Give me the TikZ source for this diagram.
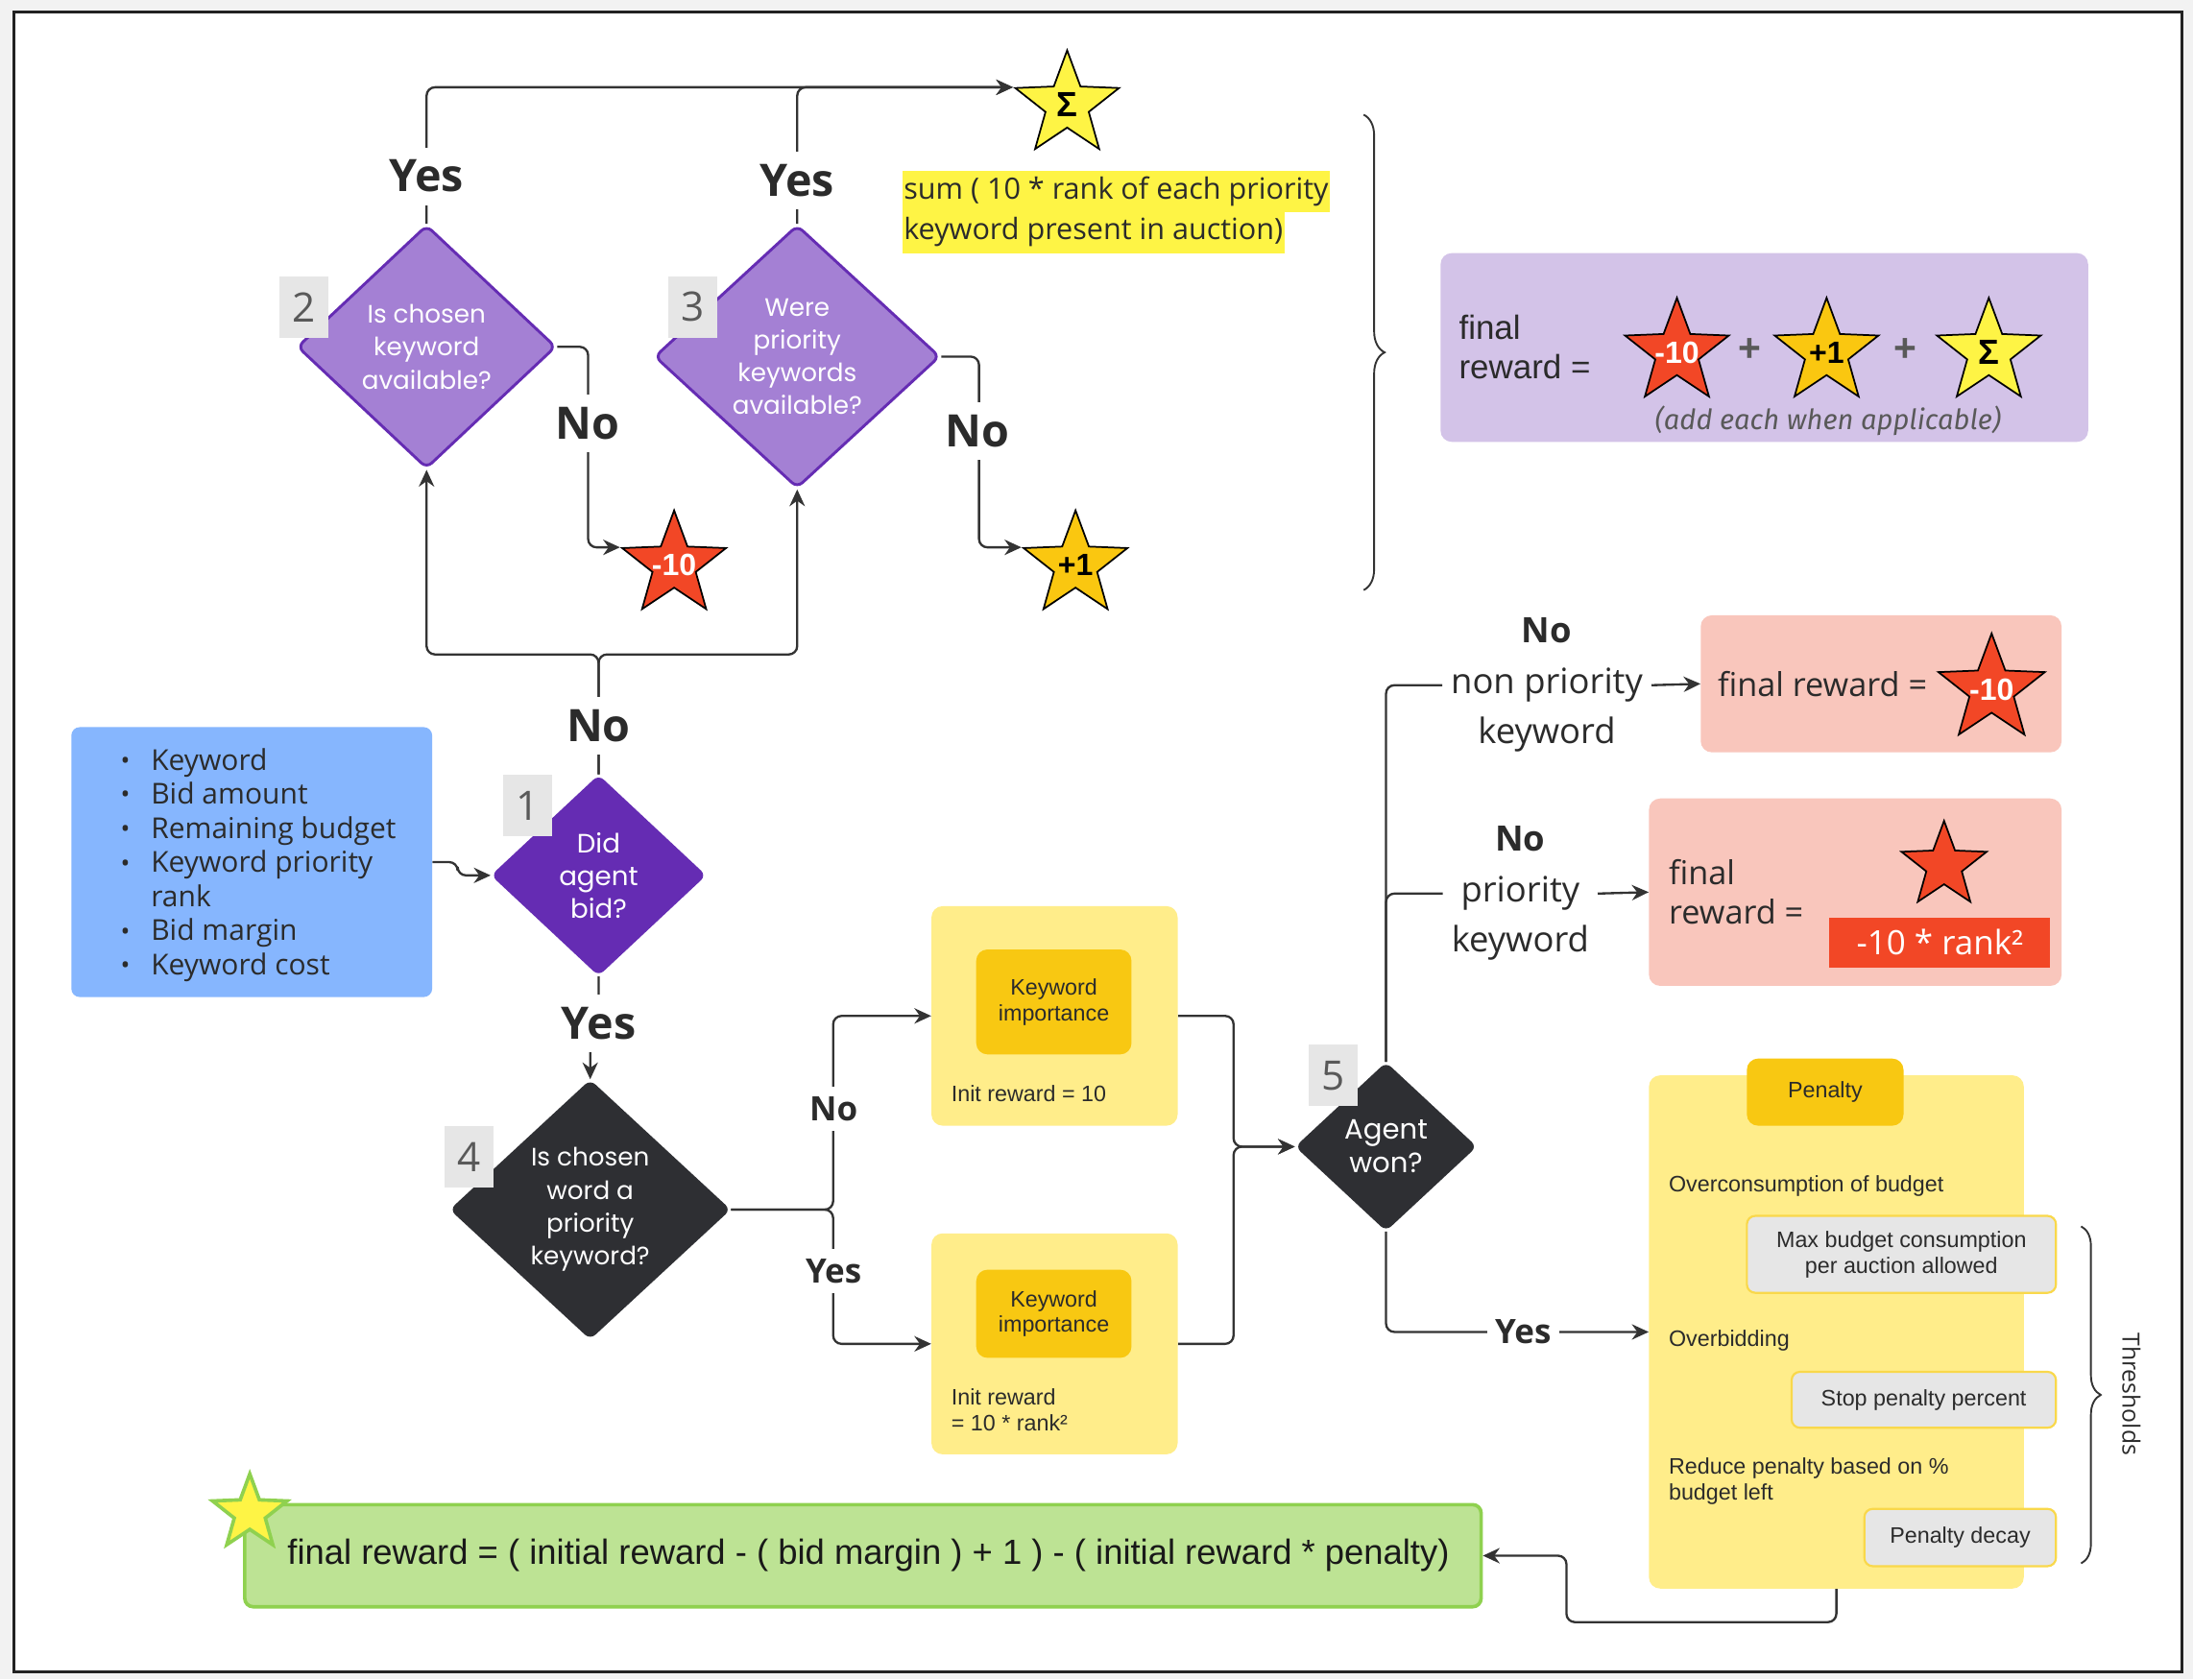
\documentclass[tikz,border=0pt]{standalone}
\usepackage{fontspec}
\setmainfont{Open Sans}
\newfontfamily\arialfont{Liberation Sans}
\newfontfamily\geofont{Poppins}
\newfontfamily\notefont{Fira Sans}
\usetikzlibrary{arrows.meta,positioning,calc,shapes.geometric,decorations.pathreplacing}
\definecolor{pagegray}{HTML}{F2F2F2}
\definecolor{framecol}{HTML}{222222}
\definecolor{wirecol}{HTML}{333333}
\definecolor{inkdark}{HTML}{2B2B2B}
\definecolor{bidviolet}{HTML}{652CB3}
\definecolor{lavender}{HTML}{A480D4}
\definecolor{charcoal}{HTML}{2E2F33}
\definecolor{tagfill}{HTML}{E6E6E6}
\definecolor{taggray}{HTML}{595959}
\definecolor{skyblue}{HTML}{86B6FE}
\definecolor{lilac}{HTML}{D3C3E8}
\definecolor{blush}{HTML}{F9C6BC}
\definecolor{butter}{HTML}{FFED8A}
\definecolor{amber}{HTML}{F8C812}
\definecolor{starred}{HTML}{F24726}
\definecolor{staramber}{HTML}{FAC710}
\definecolor{staryellow}{HTML}{FEF445}
\definecolor{leaf}{HTML}{BDE394}
\definecolor{leafedge}{HTML}{8FD14F}
\definecolor{chipedge}{HTML}{F9D84B}
\definecolor{plusgray}{HTML}{595959}
\pgfdeclarelayer{paper}
\pgfdeclarelayer{wires}
\pgfsetlayers{paper,wires,main}
\newcommand\listdot{\raisebox{0.5pt}{\fontsize{18}{18}\selectfont\textbullet}}

\begin{document}
\begin{tikzpicture}[x=1pt,y=-1pt,
  wire/.style={draw=wirecol,line width=1.6pt,rounded corners=6pt},
  arr/.style={wire,-{Stealth[length=12pt,width=11pt]}},
  decision/.style={diamond,inner sep=0pt,rounded corners=5pt},
  dtext/.style={font=\geofont\fontsize{18}{23.5}\selectfont,text=white,align=center},
  numtag/.style={fill=tagfill,minimum width=35pt,minimum height=44pt,inner sep=0pt,
                 font=\fontsize{29}{29}\selectfont,text=taggray},
  yesno/.style={fill=white,font=\bfseries\fontsize{32}{36}\selectfont,text=inkdark,
                inner xsep=6pt,inner ysep=9pt},
  smallyn/.style={fill=white,font=\bfseries\fontsize{24}{28}\selectfont,text=inkdark,
                  inner xsep=6pt,inner ysep=7pt},
  rewardstar/.style={star,star points=5,star point ratio=2.4,inner sep=0pt,
                     draw=black,line width=1.2pt},
  startext/.style={font=\arialfont\bfseries\fontsize{22}{22}\selectfont,text=black},
  card/.style={rounded corners=8pt,inner sep=0pt},
  chip/.style={card,rounded corners=6pt,fill=tagfill,draw=chipedge,line width=1.5pt,
               font=\arialfont\fontsize{16}{18.6}\selectfont,text=inkdark,align=center},
  penaltynote/.style={font=\arialfont\fontsize{16}{18.6}\selectfont,text=inkdark,
                      align=left,inner sep=0pt},
  branchtext/.style={font=\fontsize{25}{36}\selectfont,text=inkdark,align=center,
                     inner xsep=6pt,inner ysep=0pt},
]
  \useasboundingbox (0,0) rectangle (1568,1201);
  \begin{pgfonlayer}{paper}
    \fill[pagegray] (0,0) rectangle (1568,1201);
    \draw[framecol,line width=2pt,fill=white] (10,8.5) rectangle (1560,1195.5);
  \end{pgfonlayer}

  % decisions
  \node[decision,fill=bidviolet,minimum width=154pt,minimum height=144pt,
        label={[dtext,font=\geofont\fontsize{19}{23.5}\selectfont]center:Did\\agent\\bid?}]
        (bid) at (428,626) {};
  \node[decision,fill=lavender,draw=bidviolet,line width=2pt,minimum width=185pt,
        minimum height=174pt,label={[dtext]center:Is chosen\\keyword\\available?}]
        (kwavail) at (305,248) {};
  \node[decision,fill=lavender,draw=bidviolet,line width=2pt,minimum width=204pt,
        minimum height=188pt,label={[dtext]center:Were\\priority\\keywords\\available?}]
        (prioavail) at (570,255) {};
  \node[decision,fill=charcoal,minimum width=201pt,minimum height=186pt,
        label={[dtext]center:Is chosen\\word a\\priority\\keyword?}]
        (isprio) at (422,865) {};
  \node[decision,fill=charcoal,minimum width=130pt,minimum height=121pt,
        label={[dtext,font=\geofont\fontsize{20}{24}\selectfont]center:Agent\\won?}]
        (won) at (991,820) {};

  % step numbers
  \node[numtag] (tag1) at (377.5,576) {1};
  \node[numtag] (tag2) at (217.5,219.5) {2};
  \node[numtag] (tag3) at (495.5,219.5) {3};
  \node[numtag] (tag4) at (335.5,827.5) {4};
  \node[numtag] (tag5) at (953,769) {5};

  % inputs
  \node[card,rounded corners=6pt,fill=skyblue,minimum width=258pt,minimum height=193pt]
        (inputs) at (180,616.5) {};
  \node[anchor=west,inner sep=0pt,font=\fontsize{20.6}{24.4}\selectfont,text=inkdark]
        (inputlist) at (86,619) {\begin{tabular}{@{}l@{\hspace{15pt}}l@{}}
          \listdot & Keyword\\
          \listdot & Bid amount\\
          \listdot & Remaining budget\\
          \listdot & Keyword priority\\
                   & rank\\
          \listdot & Bid margin\\
          \listdot & Keyword cost
        \end{tabular}};

  % reward stars of checks 2 and 3
  \node[rewardstar,fill=staryellow,minimum size=78pt,
        label={[startext,font=\arialfont\bfseries\fontsize{25}{25}\selectfont]center:Σ}]
        (sumstar) at (763,75) {};
  \node[rewardstar,fill=starred,minimum size=78pt,
        label={[startext,text=white]center:-10}] (negstar) at (482,404) {};
  \node[rewardstar,fill=staramber,minimum size=78pt,
        label={[startext]center:+1}] (onestar) at (769,404) {};
  \node[anchor=west,fill=staryellow,inner xsep=1pt,inner ysep=0pt,minimum height=30pt,
        font=\fontsize{21}{24}\selectfont,text=inkdark]
        (sumline1) at (645,137) {sum ( 10 * rank of each priority};
  \node[anchor=west,fill=staryellow,inner xsep=1pt,inner ysep=0pt,minimum height=30pt,
        font=\fontsize{21}{24}\selectfont,text=inkdark]
        (sumline2) at (645,166) {keyword present in auction)};

  % combined formula
  \draw[wirecol,line width=1.3pt,decorate,decoration={brace,amplitude=15pt}]
        (975,82) -- (975,422);
  \node[card,fill=lilac,minimum width=463pt,minimum height=135pt] (formula) at (1261.5,248.5) {};
  \node[anchor=west,inner sep=0pt,align=left,font=\arialfont\fontsize{24}{28}\selectfont,
        text=inkdark] (formlabel) at (1043,248) {final\\reward =};
  \node[rewardstar,fill=starred,minimum size=78pt,
        label={[startext,text=white]center:-10}] (fstar1) at (1199,252) {};
  \node[rewardstar,fill=staramber,minimum size=78pt,
        label={[startext]center:+1}] (fstar2) at (1306,252) {};
  \node[rewardstar,fill=staryellow,minimum size=78pt,
        label={[startext,font=\arialfont\bfseries\fontsize{25}{25}\selectfont]center:Σ}]
        (fstar3) at (1422,252) {};
  \node[font=\arialfont\bfseries\fontsize{28}{28}\selectfont,text=plusgray] (plus1) at (1251,250) {+};
  \node[font=\arialfont\bfseries\fontsize{28}{28}\selectfont,text=plusgray] (plus2) at (1362,250) {+};
  \node[font=\notefont\itshape\fontsize{20}{22}\selectfont,text=plusgray]
        (addnote) at (1307,301) {(add each when applicable)};

  % keyword importance
  \node[card,fill=butter,minimum width=176pt,minimum height=157pt] (boxA) at (754,726.5) {};
  \node[card,fill=amber,minimum width=111pt,minimum height=75pt,align=center,
        font=\arialfont\fontsize{16}{18.3}\selectfont,text=inkdark]
        (impA) at (753.5,716.5) {Keyword\\importance};
  \node[penaltynote,anchor=west] (initA) at (680,782) {Init reward = 10};
  \node[card,fill=butter,minimum width=176pt,minimum height=158pt] (boxB) at (754,961) {};
  \node[card,fill=amber,minimum width=111pt,minimum height=63pt,align=center,
        font=\arialfont\fontsize{16}{18.3}\selectfont,text=inkdark]
        (impB) at (753.5,939.5) {Keyword\\importance};
  \node[penaltynote,anchor=west] (initB) at (680,1008) {Init reward\\= 10 * rank²};

  % lost auction
  \node[branchtext] (lblnp) at (1106,490) {\textbf{No}\\non priority\\keyword};
  \node[branchtext] (lblp) at (1087,639) {\textbf{No}\\priority\\keyword};
  \node[card,fill=blush,minimum width=258pt,minimum height=98pt] (pinkA) at (1345,489) {};
  \node[anchor=west,inner sep=0pt,font=\fontsize{23.5}{28}\selectfont,text=inkdark]
        (pinkAtext) at (1228,489) {final reward =};
  \node[rewardstar,fill=starred,minimum size=80pt,
        label={[startext,text=white]center:-10}] (pinkAstar) at (1424,493) {};
  \node[card,fill=blush,minimum width=295pt,minimum height=134pt] (pinkB) at (1326.5,638) {};
  \node[anchor=west,inner sep=0pt,align=left,font=\fontsize{23.5}{28}\selectfont,text=inkdark]
        (pinkBtext) at (1193,638) {final\\reward =};
  \node[rewardstar,fill=starred,minimum size=64pt] (pinkBstar) at (1390,619) {};
  \node[fill=starred,minimum width=158pt,minimum height=36pt,inner sep=0pt,text=white,
        font=\fontsize{24}{28}\selectfont] (rankbox) at (1387,674) {-10 * rank²};

  % penalty
  \node[card,fill=butter,minimum width=268pt,minimum height=367pt] (penalty) at (1313,952.5) {};
  \node[card,fill=amber,minimum width=112pt,minimum height=48pt,
        font=\arialfont\fontsize{16}{18}\selectfont,text=inkdark] (penhead) at (1305,781) {Penalty};
  \node[penaltynote,anchor=west] (overcons) at (1193,848) {Overconsumption of budget};
  \node[chip,minimum width=221pt,minimum height=55pt]
        (maxbudget) at (1359.5,897) {Max budget consumption\\per auction allowed};
  \node[penaltynote,anchor=west] (overbid) at (1193,958.5) {Overbidding};
  \node[chip,minimum width=189pt,minimum height=40pt] (stoppct) at (1375.5,1001) {Stop penalty percent};
  \node[penaltynote,anchor=west] (reduce) at (1193,1059.5) {Reduce penalty based on \%\\budget left};
  \node[chip,minimum width=137pt,minimum height=41pt] (decay) at (1401.5,1099.5) {Penalty decay};
  \draw[wirecol,line width=1.3pt,decorate,decoration={brace,amplitude=14pt}]
        (1488,877) -- (1488,1118);
  \node[rotate=-90,font=\fontsize{17}{20}\selectfont,text=inkdark] (thresh) at (1524,997) {Thresholds};

  % final formula
  \node[card,rounded corners=6pt,fill=leaf,draw=leafedge,line width=2.5pt,
        minimum width=884pt,minimum height=73pt,font=\arialfont\fontsize{25}{30}\selectfont,
        text=black!90] (final) at (617,1112.5)
        {\hspace{8pt}final reward = ( initial reward - ( bid margin ) + 1 ) - ( initial reward * penalty)};
  \node[rewardstar,fill=staryellow,draw=leafedge,line width=2.5pt,minimum size=56pt]
        (greenstar) at (178.6,1082) {};

  % yes / no labels
  \node[yesno] (yeskw) at (305,126) {Yes};
  \node[yesno] (yesprio) at (570,129) {Yes};
  \node[yesno] (nokw) at (420,303) {No};
  \node[yesno] (noprio) at (699,308) {No};
  \node[yesno] (nobid) at (428,519) {No};
  \node[yesno] (yesbid) at (428,732) {Yes};
  \node[smallyn] (nofour) at (596,793) {No};
  \node[smallyn] (yesfour) at (596,909) {Yes};
  \node[smallyn] (yeswon) at (1089,952.5) {Yes};

  \coordinate (fork) at (428,468);
  \coordinate (merge) at (882,820);
  \coordinate (backturn) at (1120,1160);

  % connectors
  \begin{pgfonlayer}{wires}
    \draw[arr] (inputs.east) -- ++(18,0) |- (bid.west);
    \draw[arr] (bid.north) -- (fork) -| (kwavail.south);
    \draw[arr] (bid.north) -- (fork) -| (prioavail.south);
    \draw[arr] (kwavail.north) |- (sumstar.outer point 2);
    \draw[arr] (prioavail.north) |- (sumstar.outer point 2);
    \draw[arr] (kwavail.east) -- ++(22,0) |- (negstar.outer point 2);
    \draw[arr] (prioavail.east) -- ++(27,0) |- (onestar.outer point 2);
    \draw[arr] (bid.south) -- (bid.south |- yesbid) -| (isprio.north);
    \draw[arr] (isprio.east) -- ++(73,0) |- (boxA.west);
    \draw[arr] (isprio.east) -- ++(73,0) |- (boxB.west);
    \draw[arr] (boxA.east) -| (merge) -- (won.west);
    \draw[arr] (boxB.east) -| (merge) -- (won.west);
    \draw[wire] (won.north) |- (lblnp.west);
    \draw[arr] (lblnp.east) -- (pinkA.west);
    \draw[wire] (won.north) |- (lblp.west);
    \draw[arr] (lblp.east) -- (pinkB.west);
    \draw[arr] (won.south) |- (penalty.west);
    \draw[arr] (penalty.south) |- (backturn) |- (final.east);
  \end{pgfonlayer}
\end{tikzpicture}
\end{document}
